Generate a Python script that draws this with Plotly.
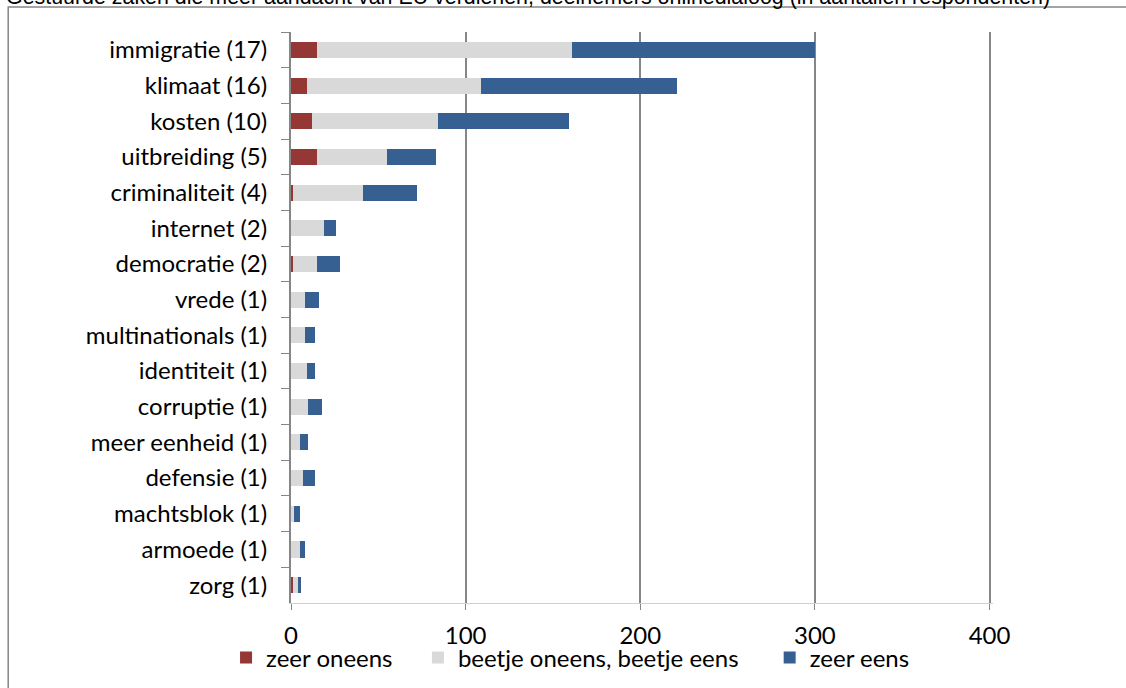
import plotly.graph_objects as go

categories = ["immigratie (17)", "klimaat (16)", "kosten (10)", "uitbreiding (5)",
              "criminaliteit (4)", "internet (2)", "democratie (2)", "vrede (1)",
              "multinationals (1)", "identiteit (1)", "corruptie (1)", "meer eenheid (1)",
              "defensie (1)", "machtsblok (1)", "armoede (1)", "zorg (1)"]
zeer_oneens = [15, 9, 12, 15, 1, 0, 1, 0, 0, 0, 0, 0, 0, 0, 0, 1]
beetje = [146, 100, 72, 40, 40, 19, 14, 8, 8, 9, 10, 5, 7, 2, 5, 3]
zeer_eens = [139, 112, 75, 28, 31, 7, 13, 8, 6, 5, 8, 5, 7, 3, 3, 2]
series_names = ["zeer oneens", "beetje oneens, beetje eens", "zeer eens"]
x_ticks = [0, 100, 200, 300, 400]
title_text = "Gestuurde zaken die meer aandacht van EU verdienen, deelnemers onlinedialoog (in aantallen respondenten)"

colors = ["#953735", "#D9D9D9", "#376092"]
FONT = "Lato"
FS = 24

W, H = 1126, 688
L, T, B = 291, 32, 85
XMAX = 402
pw = 699 * XMAX / 400
R = W - L - pw
ph = H - T - B

legend_names = ["legend", "legend2", "legend3"]
legend_text_x = [266, 458, 810]

fig = go.Figure()
for name, vals, col, lg in zip(series_names, [zeer_oneens, beetje, zeer_eens], colors, legend_names):
    fig.add_trace(go.Bar(y=categories, x=vals, name=name, orientation="h", legend=lg,
                         marker=dict(color=col, line=dict(width=0))))

legend_y = -(658 - T - ph) / ph
legends = {}
for lg, tx in zip(legend_names, legend_text_x):
    legends[lg] = dict(orientation="h", x=(tx - 40 - L) / pw, y=legend_y, xanchor="left",
                       yanchor="middle", font=dict(size=FS, family=FONT), itemwidth=30,
                       bgcolor="rgba(0,0,0,0)")

fig.update_layout(
    width=W, height=H, barmode="stack", bargap=0.55,
    margin=dict(l=L, r=R, t=T, b=B, autoexpand=False),
    paper_bgcolor="white", plot_bgcolor="white",
    font=dict(family=FONT, size=FS, color="black"),
    xaxis=dict(range=[0, XMAX], tickvals=x_ticks, showgrid=True, gridcolor="#868686", gridwidth=1.5,
               zeroline=False, showline=True, linecolor="#D0D0D0", linewidth=1,
               ticks="outside", ticklen=6, tickcolor="#868686", ticklabelstandoff=5),
    yaxis=dict(categoryorder="array", categoryarray=categories, autorange="reversed",
               showline=True, linecolor="#868686", linewidth=2, ticks="outside", ticklen=8,
               tickcolor="#868686", tickson="boundaries", ticklabelstandoff=17, showgrid=False),
    showlegend=True,
    **legends,
)

# outer frame
fig.add_shape(type="rect", xref="paper", yref="paper",
              x0=(8 - L) / pw, x1=(W + 10 - L) / pw,
              y0=-(H + 10 - T - ph) / ph, y1=1 + (T - 7) / ph,
              line=dict(color="#868686", width=1.5), fillcolor="rgba(0,0,0,0)", layer="below")

fig.add_annotation(text=title_text, xref="paper", yref="paper", x=(4 - L) / pw,
                   y=1 + (T + 3) / ph, xanchor="left", yanchor="middle", showarrow=False,
                   font=dict(family="Liberation Sans", size=21.4, color="black"))

fig.write_html("out.html", post_script="document.body.style.margin='0';",
               config={"displayModeBar": False})
